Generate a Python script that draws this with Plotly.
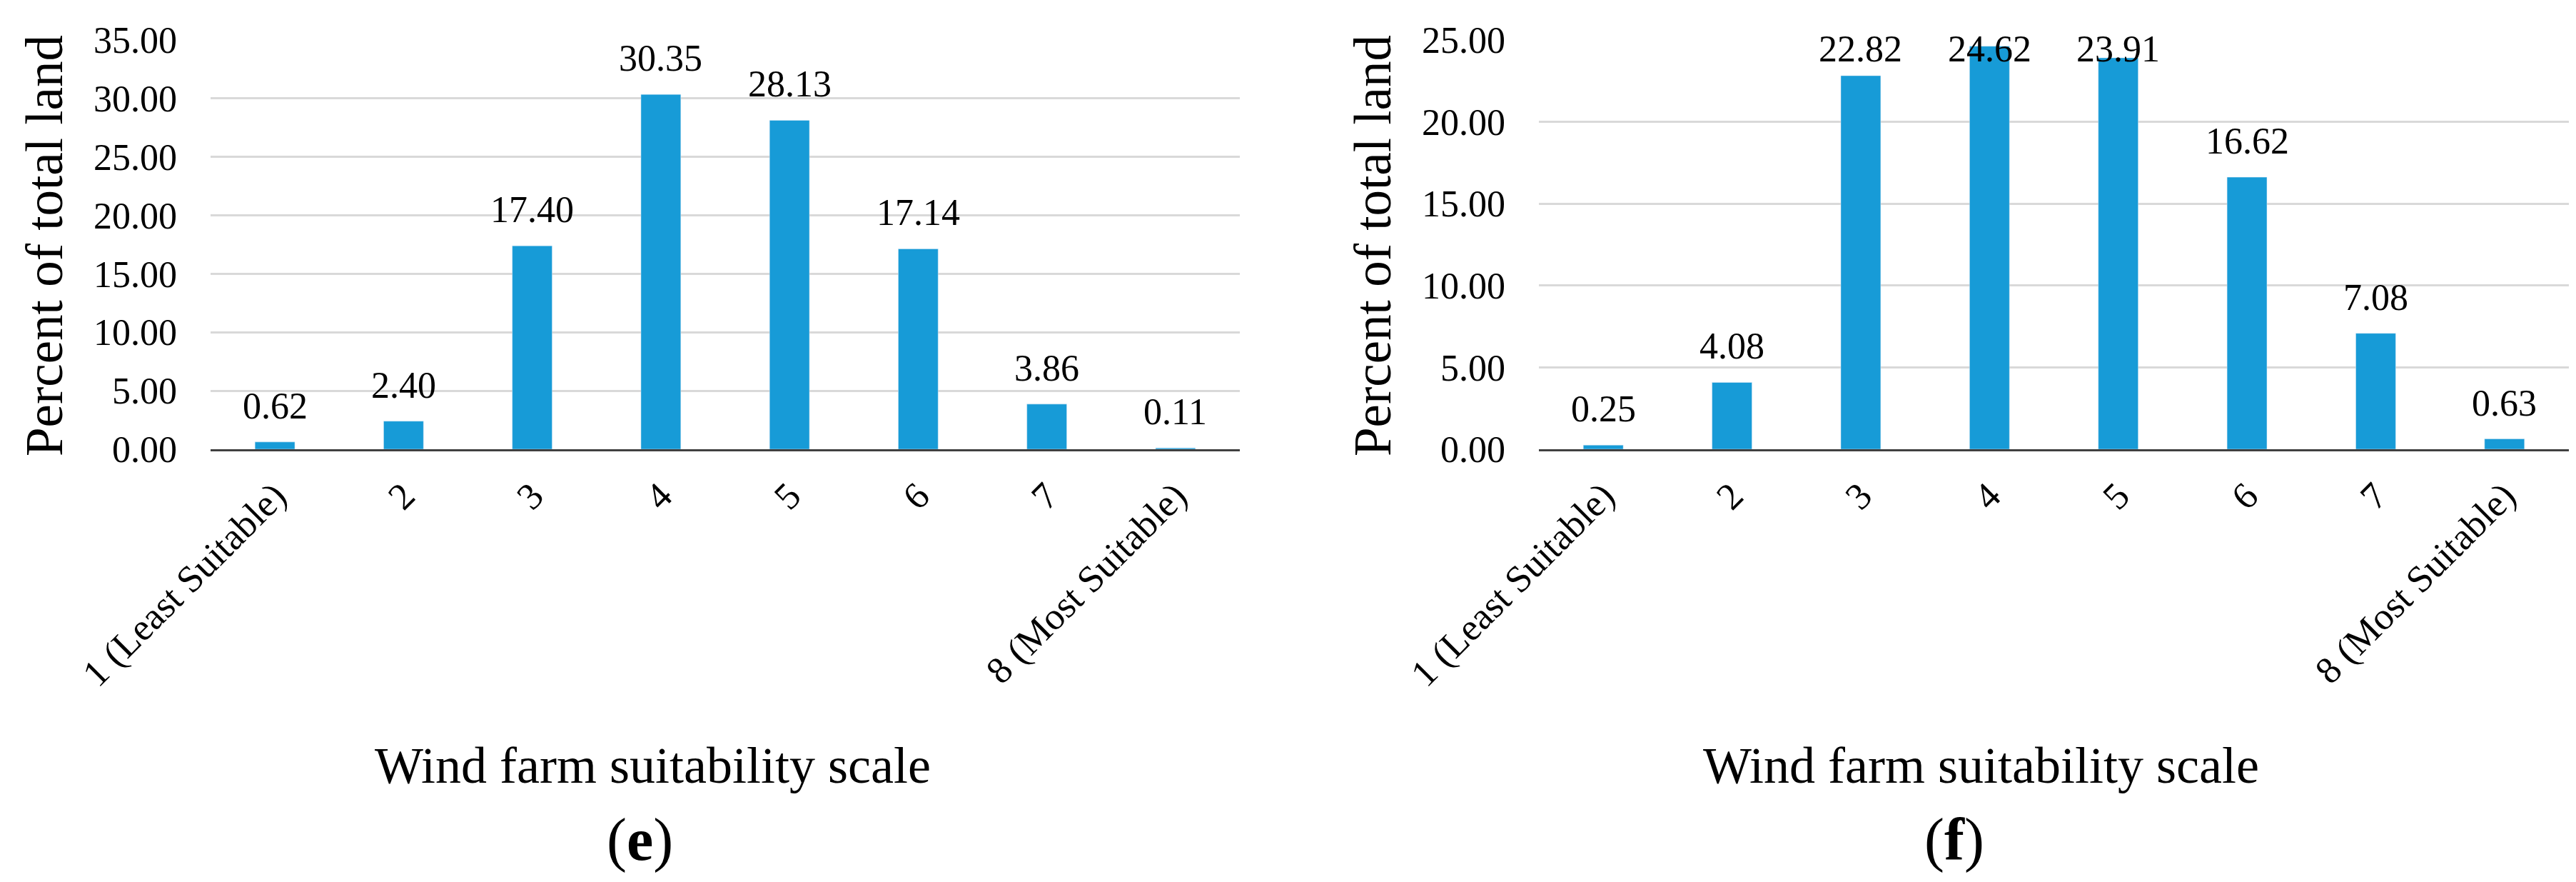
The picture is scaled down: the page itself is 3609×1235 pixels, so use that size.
import plotly.graph_objects as go

categories = ["1 (Least Suitable)", "2", "3", "4", "5", "6", "7", "8 (Most Suitable)"]
values_e = [0.62, 2.40, 17.40, 30.35, 28.13, 17.14, 3.86, 0.11]
values_f = [0.25, 4.08, 22.82, 24.62, 23.91, 16.62, 7.08, 0.63]
ymax_e, ymax_f = 35, 25
y_title = "Percent of total land"
x_title = "Wind farm suitability scale"
panel_labels = ["(<b>e</b>)", "(<b>f</b>)"]

W, H = 3609, 1235
FONT = "Liberation Serif, Times New Roman, serif"
BAR = "#179BD7"

fig = go.Figure()
fig.add_trace(go.Bar(x=categories, y=values_e, marker_color=BAR, xaxis="x", yaxis="y",
                     showlegend=False, hoverinfo="skip"))
fig.add_trace(go.Bar(x=categories, y=values_f, marker_color=BAR, xaxis="x2", yaxis="y2",
                     showlegend=False, hoverinfo="skip"))

PLOT_TOP, PLOT_BOTTOM = 48, 621
ydom = [(H - PLOT_BOTTOM) / H, (H - PLOT_TOP) / H]
xdom1 = [287 / W, 1729 / W]
xdom2 = [2148 / W, 3591 / W]

def xax(dom, anchor):
    return dict(domain=dom, anchor=anchor, type="category", showline=True,
                linecolor="#404040", linewidth=3, showgrid=False, ticks="",
                tickangle=-45, tickfont=dict(family=FONT, size=53, color="#000"),
                ticklabelstandoff=10, fixedrange=True, automargin=False)

def yax(dom, anchor, top):
    return dict(domain=dom, anchor=anchor, range=[0, top], dtick=5, tick0=0,
                tickformat=".2f", showgrid=True, gridcolor="#d9d9d9", gridwidth=3,
                zeroline=False, showline=False, ticks="",
                tickfont=dict(family=FONT, size=52, color="#000"),
                ticklabelstandoff=46, fixedrange=True, automargin=False)

# data labels sit above the bars but, like Excel, never rise above the plot top
plot_h = PLOT_BOTTOM - PLOT_TOP
annotations = []
for xr, yr, vals, top in (("x", "y", values_e, ymax_e), ("x2", "y2", values_f, ymax_f)):
    cap = top * (1 - 63 / plot_h)
    for i, v in enumerate(vals):
        annotations.append(dict(x=i, y=min(v, cap), xref=xr, yref=yr, text=f"{v:.2f}",
                                showarrow=False, yanchor="bottom", yshift=20,
                                font=dict(family=FONT, size=52, color="#000")))

for xc, xt in ((54 / W, 906 / W), (1915 / W, 2767 / W)):
    annotations.append(dict(x=xc, y=(H - 336) / H, xref="paper", yref="paper",
                            text=y_title, textangle=-90, showarrow=False,
                            xanchor="center", yanchor="middle",
                            font=dict(family=FONT, size=73, color="#000")))
    annotations.append(dict(x=xt, y=(H - 1064) / H, xref="paper", yref="paper",
                            text=x_title, showarrow=False,
                            xanchor="center", yanchor="middle",
                            font=dict(family=FONT, size=72, color="#000")))

for xc, lab in ((888 / W, panel_labels[0]), (2730 / W, panel_labels[1])):
    annotations.append(dict(x=xc, y=(H - 1168) / H, xref="paper", yref="paper",
                            text=lab, showarrow=False, xanchor="center", yanchor="middle",
                            font=dict(family=FONT, size=84, color="#000")))

fig.update_layout(
    width=W, height=H, margin=dict(l=0, r=0, t=0, b=0, autoexpand=False),
    paper_bgcolor="white", plot_bgcolor="white",
    bargap=0.69,
    xaxis=xax(xdom1, "y"), yaxis=yax(ydom, "x", ymax_e),
    xaxis2=xax(xdom2, "y2"), yaxis2=yax(ydom, "x2", ymax_f),
    annotations=annotations,
    font=dict(family=FONT, color="#000"),
)

fig.write_html("out.html", config={"displayModeBar": False})
